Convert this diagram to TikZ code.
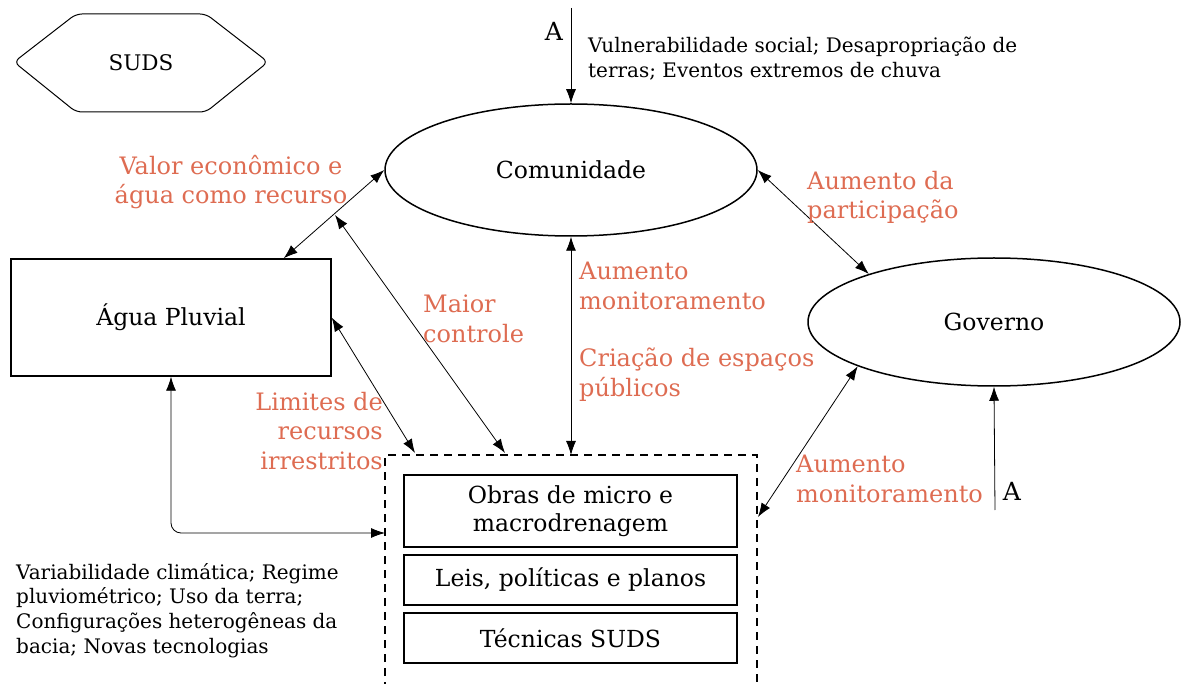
\documentclass[tikz,border=0pt]{standalone}
\usepackage{fontspec}
\setmainfont{DejaVu Serif}
\usetikzlibrary{arrows.meta,shapes.geometric}
\definecolor{lab}{RGB}{222,108,82}
\begin{document}
\begin{tikzpicture}[x=1pt,y=-1pt,
  both/.style={line width=0.8pt,{Latex[length=14pt,width=10pt]}-{Latex[length=14pt,width=10pt]}},
  one/.style={line width=0.8pt,-{Latex[length=14pt,width=10pt]}},
  ell/.style={ellipse,draw,line width=1.5pt,minimum width=372pt,minimum height=132pt,inner sep=0pt,font=\fontsize{23.5}{28}\selectfont},
  boxn/.style={draw,line width=1.4pt,minimum width=333pt,inner sep=0pt,align=center,font=\fontsize{23.5}{28}\selectfont},
  lbl/.style={text=lab,inner sep=0pt,font=\fontsize{24}{29.5}\selectfont},
  note/.style={inner sep=0pt,align=left,font=\fontsize{20}{24.8}\selectfont},
  bigA/.style={inner sep=0pt,font=\fontsize{25}{28}\selectfont}]
\useasboundingbox (0,0) rectangle (1184,684);
% SUDS hexagon
\draw[line width=1pt,rounded corners=6pt] (14,62) -- (76,14) -- (206,14) -- (268,62) -- (206,112) -- (76,112) -- cycle;
\node[inner sep=0pt,font=\fontsize{21.5}{26}\selectfont] (suds) at (141,63) {SUDS};
% main nodes
\node[ell] (com) at (571,170) {Comunidade};
\node[ell,minimum height=128pt] (gov) at (994,322) {Governo};
\node[draw,line width=1.4pt,minimum width=320pt,minimum height=117pt,inner sep=0pt,font=\fontsize{23.5}{28}\selectfont] (agua) at (171,317.5) {Água Pluvial};
% dashed container
\draw[line width=1.5pt,dash pattern=on 8pt off 6pt] (385,690) -- (385,455) -- (757,455) -- (757,690);
\coordinate (dTopA) at (415,453);
\coordinate (dTopB) at (505,453);
\coordinate (dTopC) at (571,455);
\coordinate (dRight) at (758,517);
\coordinate (dLeft) at (385,533);
\node[boxn,minimum height=72pt] (obras) at (570.5,511) {Obras de micro e\\macrodrenagem};
\node[boxn,minimum height=50pt] (leis) at (570.5,580) {Leis, políticas e planos};
\node[boxn,minimum height=50pt] (tec) at (570.5,638) {Técnicas SUDS};
% external inputs
\coordinate (topA) at (571,8);
\coordinate (botA) at (995,510);
\coordinate (mc) at (335,215);
\node[bigA] (aTop) at (554,31) {A};
\node[bigA] (aBot) at (1012,491) {A};
\node[note,anchor=north west] (vul) at (588,37) {Vulnerabilidade social; Desapropriação de\\terras; Eventos extremos de chuva};
\node[note,anchor=north west] (var) at (16,563) {Variabilidade climática; Regime\\pluviométrico; Uso da terra;\\Configurações heterogêneas da\\bacia; Novas tecnologias};
% connectors
\draw[one] (topA) -- (com.north);
\draw[one] (botA) -- (gov.south);
\draw[both] (com.west) -- ([xshift=-48pt]agua.north east);
\draw[both] (mc) -- (dTopB);
\draw[both] (agua.east) -- (dTopA);
\draw[both] (com.south) -- (dTopC);
\draw[both] (com.east) -- (gov.159);
\draw[both] (gov.198) -- (dRight);
\draw[both,rounded corners=10pt] (agua.south) |- (dLeft);
% labels
\node[lbl,align=center] (l1) at (231,182) {Valor econômico e\\água como recurso};
\node[lbl,align=left,anchor=north west] (l2) at (807,171) {Aumento da\\participação};
\node[lbl,align=left,anchor=north west] (l3) at (423,295) {Maior\\controle};
\node[lbl,align=right,anchor=north east] (l4) at (383,392) {Limites de\\recursos\\irrestritos};
\node[lbl,align=left,anchor=north west] (l5) at (579,262) {Aumento\\monitoramento};
\node[lbl,align=left,anchor=north west] (l6) at (579,348) {Criação de espaços\\públicos};
\node[lbl,align=left,anchor=north west] (l7) at (796,455) {Aumento\\monitoramento};
\end{tikzpicture}
\end{document}
